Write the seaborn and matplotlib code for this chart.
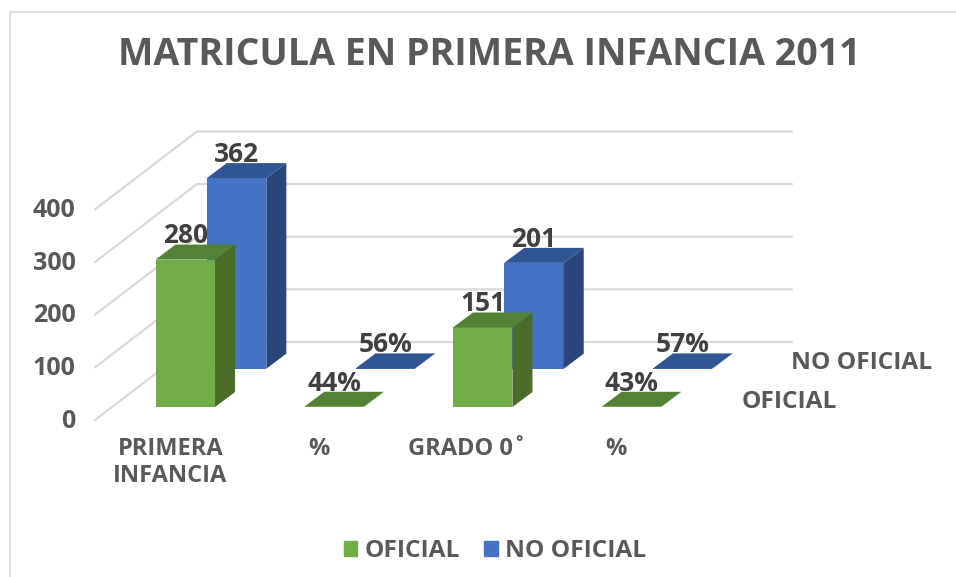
import matplotlib
matplotlib.use("Agg")
import matplotlib.pyplot as plt
import seaborn as sns
import pandas as pd
from matplotlib.lines import Line2D
from matplotlib.patches import Patch, Polygon
from matplotlib.transforms import ScaledTranslation

categories = ["PRIMERA INFANCIA", "% oficial", "GRADO 0", "% grado"]
tick_labels = ["PRIMERA\nINFANCIA", "%", "GRADO 0˚", "%"]
oficial = [280, 0.44, 151, 0.43]
no_oficial = [362, 0.56, 201, 0.57]
y_ticks = [0, 100, 200, 300, 400]

W, H = 956, 577
PX_X = 148.7   # px per category
PX_Y = 0.5265  # px per unit


def fx(px):
    return px / W


def fy(px):
    return 1 - px / H


def draw_series(ax, values, fill, side, top, shift_px, zorder):
    df = pd.DataFrame({"grupo": categories, "valor": values})
    before = len(ax.patches)
    sns.barplot(data=df, x="grupo", y="valor", color=fill, saturation=1,
                width=0.4, linewidth=0, ax=ax)
    bars = ax.patches[before:]
    dx, dy = shift_px[0] / PX_X, shift_px[1] / PX_Y
    depth_x, depth_y = 20 / PX_X, 15 / PX_Y
    for bar, v in zip(bars, values):
        bar.set_x(bar.get_x() + dx)
        bar.set_y(bar.get_y() + dy)
        bar.set_zorder(zorder)
        x0, x1 = bar.get_x(), bar.get_x() + bar.get_width()
        y0, y1 = bar.get_y(), bar.get_y() + bar.get_height()
        ax.add_patch(Polygon([(x1, y0), (x1 + depth_x, y0 + depth_y),
                              (x1 + depth_x, y1 + depth_y), (x1, y1)],
                             color=side, lw=0, zorder=zorder))
        ax.add_patch(Polygon([(x0, y1), (x0 + depth_x, y1 + depth_y),
                              (x1 + depth_x, y1 + depth_y), (x1, y1)],
                             color=top, lw=0, zorder=zorder))
        label = f"{v:.0%}" if v < 1 else str(v)
        ax.annotate(label, ((x0 + x1) / 2, y1), xytext=(0, 17), textcoords="offset points",
                    ha="center", va="center", fontsize=19, fontweight="bold",
                    color="#404040", zorder=zorder + 3)


sns.set_theme(style="white")
plt.rcParams["font.family"] = ["Open Sans", "DejaVu Sans"]

fig = plt.figure(figsize=(W / 100, H / 100), dpi=100)
ax = fig.add_axes([fx(95), fy(420), fx(792 - 95), fy(100) - fy(420)])
ax.patch.set_alpha(0)

draw_series(ax, no_oficial, "#4472C4", "#2A477C", "#315594", (51.3, 38.3), 3)
draw_series(ax, oficial, "#70AD47", "#4A6C28", "#548235", (0, 0), 6)

ax.set_xlim((95 - 185.3) / PX_X, (792 - 185.3) / PX_X)
ax.set_ylim(-13 / PX_Y, 307 / PX_Y)
x_left, x_right = ax.get_xlim()

# back wall and left side gridlines
for v in y_ticks:
    back_x = x_left + 102 / PX_X
    front_y = v - 13 / PX_Y
    back_y = v + 65 / PX_Y
    ax.plot([x_left, back_x, x_right], [front_y, back_y, back_y], color="#D9D9D9",
            lw=1.6, zorder=1, clip_on=False, solid_joinstyle="miter")

ax.set_xticks(range(len(categories)), tick_labels)
ax.set_yticks(y_ticks)
ax.set_xlabel("")
ax.set_ylabel("")
ax.tick_params(axis="both", length=0, labelcolor="#595959")
ax.tick_params(axis="x", pad=12)
ax.tick_params(axis="y", pad=14)
for lab in ax.get_xticklabels():
    lab.set_fontsize(17)
    lab.set_fontweight("bold")
    lab.set_linespacing(1.2)
    lab.set_transform(lab.get_transform() + ScaledTranslation(-0.15, 0, fig.dpi_scale_trans))
for lab in ax.get_yticklabels():
    lab.set_fontsize(18)
    lab.set_fontweight("bold")
    lab.set_transform(lab.get_transform() + ScaledTranslation(0, -0.11, fig.dpi_scale_trans))
sns.despine(ax=ax, left=True, bottom=True)

fig.text(fx(489), fy(55), "MATRICULA EN PRIMERA INFANCIA 2011", ha="center", va="center",
         fontsize=27, fontweight="bold", color="#595959")
fig.text(fx(862), fy(363), "NO OFICIAL", ha="center", va="center",
         fontsize=17.6, fontweight="bold", color="#595959")
fig.text(fx(789), fy(402), "OFICIAL", ha="center", va="center",
         fontsize=17.6, fontweight="bold", color="#595959")

handles = [Patch(color="#70AD47", label="OFICIAL"), Patch(color="#4472C4", label="NO OFICIAL")]
fig.legend(handles=handles, loc="center", bbox_to_anchor=(fx(495), fy(551)), ncol=2,
           frameon=False, handlelength=0.55, handleheight=0.55, handletextpad=0.3,
           columnspacing=1.0, prop={"size": 17.6, "weight": "bold"}, labelcolor="#595959")

# chart frame
fig.add_artist(Line2D([fx(10), fx(10), 1], [0, fy(12), fy(12)], color="#D9D9D9", lw=1.2))

fig.savefig("out.png", dpi=100)
